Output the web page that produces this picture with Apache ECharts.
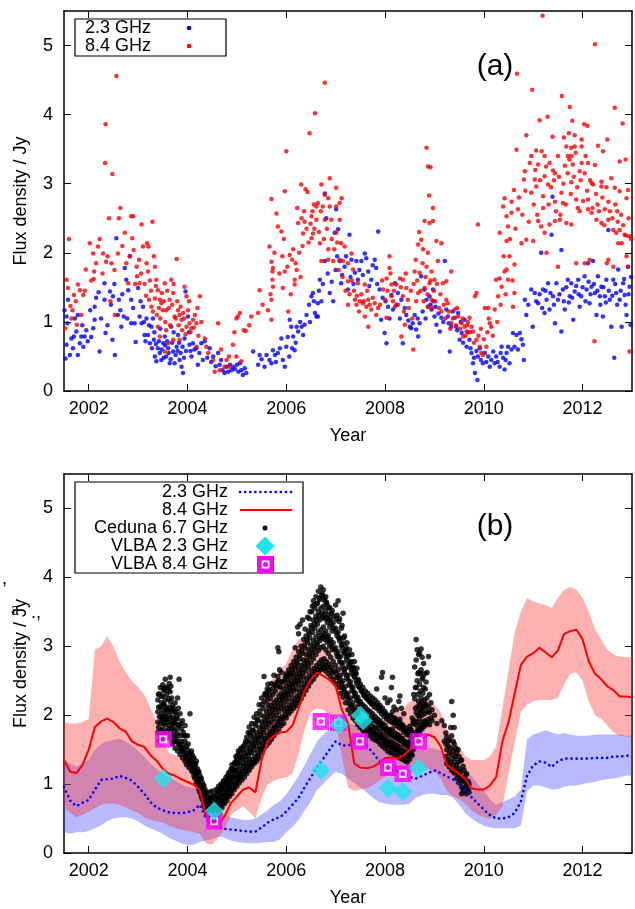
<!DOCTYPE html>
<html lang="en">
<head>
<meta charset="UTF-8">
<title>Flux density light curves</title>
<script src="https://cdn.jsdelivr.net/npm/echarts@6/dist/echarts.min.js"></script>
<style>
  html,body{margin:0;padding:0;background:#fff;}
  #chart{width:635px;height:909px;}
</style>
</head>
<body>
<div id="chart"></div>
<script>
var FONT = "'Liberation Sans', Arial, Helvetica, sans-serif";

// tick positions
var yearTicks = [2002, 2004, 2006, 2008, 2010, 2012];
var fluxTicks = [0, 1, 2, 3, 4, 5];

// ---------- panel (a): single-dish monitoring ----------
var flux23 = [
  [2001.51,1.17],[2001.53,0.47],[2001.55,1.08],[2001.55,0.67],[2001.58,1.32],[2001.62,0.52],[2001.65,0.76],[2001.70,0.79],
  [2001.75,0.86],[2001.78,1.10],[2001.78,0.52],[2001.82,0.69],[2001.85,0.79],[2001.89,0.64],[2001.92,0.79],[2001.95,0.88],
  [2001.57,0.98],[2001.68,0.62],[2001.72,1.05],[2001.87,0.95],[2001.98,0.72],
  [2002.03,1.17],[2002.09,0.91],[2002.12,1.22],[2002.12,1.03],[2002.20,1.43],[2002.22,0.57],[2002.32,1.56],[2002.32,1.32],
  [2002.34,0.84],[2002.43,1.44],[2002.48,0.74],[2002.49,1.37],[2002.53,0.52],[2002.56,2.21],[2002.59,1.10],[2002.61,1.32],
  [2002.64,1.17],[2002.66,0.93],[2002.71,1.08],[2002.73,1.78],[2002.76,1.61],[2002.80,1.46],[2002.83,1.95],[2002.86,1.32],
  [2002.86,0.98],[2002.93,0.98],[2002.95,0.71],[2002.05,0.78],[2002.15,1.35],[2002.25,1.05],[2002.38,0.95],[2002.45,1.25],
  [2002.52,1.55],[2002.68,1.40],[2002.78,1.05],[2002.90,1.20],
  [2003.00,1.49],[2003.03,1.08],[2003.07,0.98],[2003.10,1.22],[2003.13,0.81],
  [2003.17,1.05],[2003.20,0.81],[2003.24,0.69],[2003.27,0.93],[2003.30,1.05],[2003.32,0.74],[2003.34,0.50],[2003.37,0.43],
  [2003.40,0.62],[2003.44,0.55],[2003.47,0.45],[2003.51,0.69],[2003.54,0.79],[2003.57,0.50],[2003.61,0.62],[2003.64,0.40],
  [2003.67,0.93],[2003.71,0.57],[2003.74,0.40],[2003.78,0.64],[2003.81,0.81],[2003.84,0.45],[2003.88,0.35],[2003.91,0.26],
  [2003.94,0.76],[2003.96,1.44],[2003.05,1.30],[2003.12,1.00],[2003.15,0.72],[2003.22,0.95],[2003.28,0.62],[2003.33,0.85],
  [2003.36,0.68],[2003.42,0.72],[2003.45,0.90],[2003.48,0.60],[2003.52,0.48],[2003.55,0.66],[2003.59,0.72],[2003.62,0.55],
  [2003.66,0.46],[2003.69,0.70],[2003.72,0.85],[2003.76,0.52],[2003.80,0.58],[2003.83,0.70],[2003.86,0.55],[2003.90,0.64],
  [2003.93,0.48],[2003.97,0.58],
  [2004.01,1.08],[2004.04,0.67],[2004.08,0.50],[2004.11,0.69],[2004.18,0.62],[2004.21,0.38],
  [2004.28,0.69],[2004.35,0.72],[2004.45,0.62],[2004.52,0.50],[2004.62,0.55],[2004.65,0.38],[2004.71,0.30],[2004.75,0.26],
  [2004.79,0.35],[2004.86,0.38],[2004.92,0.35],[2004.03,0.85],[2004.06,0.58],[2004.14,0.60],[2004.24,0.55],[2004.31,0.45],
  [2004.40,0.48],[2004.48,0.42],[2004.57,0.36],[2004.68,0.45],[2004.82,0.28],[2004.89,0.30],[2004.96,0.32],
  [2005.00,0.38],[2005.06,0.40],[2005.09,0.30],[2005.12,0.23],[2005.16,0.33],
  [2005.33,0.57],[2005.43,0.38],[2005.46,0.52],[2005.60,0.52],[2005.66,0.45],[2005.70,0.40],[2005.73,0.59],[2005.77,0.52],
  [2005.83,0.55],[2005.90,0.76],[2005.93,0.45],[2005.97,0.35],[2005.03,0.28],[2005.19,0.26],[2005.50,0.46],[2005.56,0.35],
  [2005.79,0.42],[2005.87,0.62],
  [2006.00,0.64],[2006.06,0.50],[2006.07,1.03],[2006.10,0.93],
  [2006.14,0.79],[2006.17,0.59],[2006.21,0.93],[2006.24,0.86],[2006.31,0.93],[2006.34,0.81],[2006.37,0.96],[2006.46,1.25],
  [2006.51,1.37],[2006.54,1.42],[2006.58,1.13],[2006.61,1.08],[2006.64,1.27],[2006.64,1.08],[2006.68,1.61],[2006.71,1.30],
  [2006.03,0.78],[2006.12,0.62],[2006.19,0.70],[2006.28,1.00],[2006.41,1.10],[2006.48,1.00],[2006.56,1.30],
  [2006.78,1.88],[2006.78,2.86],[2006.81,2.50],[2006.88,1.42],[2006.95,1.30],[2006.98,2.29],[2007.01,2.63],[2007.05,2.34],
  [2007.08,1.88],[2007.11,1.56],[2007.18,1.80],[2007.25,1.47],[2007.28,2.26],[2007.32,1.90],[2007.39,1.71],[2007.42,1.88],
  [2007.45,1.61],[2007.52,1.88],[2007.59,1.99],[2007.62,1.92],[2007.66,1.73],[2007.72,1.61],[2007.79,1.90],[2007.82,1.78],
  [2007.86,2.31],[2007.89,1.47],[2007.92,1.03],[2007.99,0.84],[2008.03,0.69],[2008.06,1.22],[2008.13,1.39],[2008.20,1.56],
  [2006.66,1.45],[2006.74,1.55],[2006.84,1.70],[2006.92,1.58],[2007.00,1.75],[2007.03,1.95],[2007.13,1.68],[2007.21,1.95],
  [2007.30,1.65],[2007.36,1.55],[2007.48,1.75],[2007.55,1.68],[2007.68,1.52],[2007.75,1.82],[2007.84,1.55],[2007.95,1.35],
  [2008.26,1.42],[2008.33,1.32],[2008.36,0.69],[2008.43,1.10],[2008.50,0.93],[2008.53,0.91],[2008.60,1.10],[2008.63,0.89],
  [2008.67,0.79],[2008.70,0.98],[2008.73,1.66],[2008.80,1.47],[2008.84,1.32],[2008.87,1.22],[2008.90,1.37],[2008.94,1.18],
  [2008.97,1.47],[2008.01,1.30],[2008.09,1.05],[2008.16,1.18],[2008.23,1.25],[2008.30,1.05],[2008.40,1.20],[2008.47,1.02],
  [2008.56,0.98],[2008.66,1.05],[2008.76,1.15],[2008.82,1.05],[2008.92,1.25],[2008.98,1.30],
  [2009.00,1.08],[2009.04,0.96],[2009.11,0.86],[2009.14,1.06],[2009.21,1.88],[2009.24,1.18],[2009.27,1.08],
  [2009.31,0.57],[2009.34,0.93],[2009.41,1.06],[2009.44,0.93],[2009.48,1.13],[2009.51,0.74],[2009.55,0.84],[2009.61,1.03],
  [2009.65,0.64],[2009.71,0.74],[2009.75,0.55],[2009.78,0.40],[2009.82,0.26],[2009.87,0.16],[2009.88,0.50],[2009.92,0.62],
  [2009.02,1.22],[2009.08,1.12],[2009.18,1.00],[2009.29,0.98],[2009.37,1.15],[2009.46,0.88],[2009.53,1.00],[2009.58,0.70],
  [2009.68,0.85],[2009.73,0.62],[2009.80,0.48],[2009.85,0.58],[2009.94,0.45],
  [2009.98,0.40],[2010.02,0.55],[2010.09,0.50],[2010.12,0.35],[2010.19,0.57],[2010.22,0.40],[2010.25,0.50],[2010.32,0.35],
  [2010.36,0.64],[2010.39,0.48],[2010.42,0.31],[2010.46,0.55],[2010.49,0.64],[2010.56,0.60],[2010.62,0.64],[2010.59,0.84],
  [2010.66,0.81],[2010.73,0.84],[2010.79,0.67],[2010.81,0.45],[2010.83,1.32],[2010.86,1.10],[2010.96,1.47],[2010.99,0.93],
  [2010.05,0.42],[2010.15,0.45],[2010.28,0.42],[2010.34,0.55],[2010.44,0.45],[2010.52,0.40],[2010.69,0.60],[2010.76,0.75],
  [2011.03,1.42],[2011.10,1.27],[2011.16,2.00],[2011.20,1.47],[2011.23,1.13],[2011.27,1.32],[2011.30,1.56],[2011.33,1.18],
  [2011.37,2.26],[2011.39,2.81],[2011.40,1.37],[2011.44,0.98],[2011.47,1.56],[2011.50,1.32],[2011.57,2.04],[2011.57,0.86],
  [2011.60,1.47],[2011.64,1.18],[2011.70,1.61],[2011.74,1.37],[2011.77,1.56],[2011.81,1.03],[2011.84,1.44],[2011.91,1.61],
  [2011.94,1.22],[2011.97,1.37],[2012.04,1.66],[2012.08,1.47],[2012.11,1.85],[2012.14,1.27],[2012.18,1.51],[2012.21,1.88],
  [2012.25,1.42],[2012.28,1.10],[2012.31,1.66],[2012.35,1.37],[2012.38,1.51],[2012.41,1.08],[2012.45,1.37],[2012.48,1.61],
  [2012.52,2.33],[2012.55,1.32],[2012.58,0.93],[2012.62,1.61],[2012.64,0.48],[2012.68,1.42],[2012.72,1.76],[2012.75,1.32],
  [2012.79,0.93],[2012.82,1.56],[2012.85,1.39],[2012.89,1.10],[2012.92,1.80],[2012.95,1.51],[2012.97,0.96],
  [2010.90,1.25],[2011.06,1.30],[2011.13,1.40],[2011.18,1.20],[2011.25,1.45],[2011.35,1.42],[2011.42,1.25],[2011.53,1.40],
  [2011.62,1.30],[2011.67,1.50],[2011.72,1.28],[2011.79,1.35],[2011.87,1.52],[2011.92,1.40],[2012.00,1.50],[2012.06,1.30],
  [2012.12,1.58],[2012.16,1.40],[2012.23,1.55],[2012.30,1.45],[2012.36,1.25],[2012.42,1.50],[2012.47,1.28],[2012.53,1.45],
  [2012.60,1.38],[2012.66,1.55],[2012.70,1.25],[2012.77,1.45],[2012.84,1.62],[2012.87,1.25],[2012.93,1.40],[2012.98,1.65]
];

var flux84 = [
  [2001.52,0.91],[2001.55,1.61],[2001.58,1.49],[2001.60,2.20],[2001.63,1.23],[2001.67,1.17],[2001.70,1.39],[2001.76,0.96],
  [2001.78,1.54],[2001.82,1.46],[2001.85,1.10],[2001.89,1.39],[2001.94,1.76],[2001.65,1.05],[2001.74,1.30],[2001.92,1.45],
  [2002.02,2.14],[2002.09,1.99],[2002.10,1.62],
  [2002.11,1.73],[2002.19,2.09],[2002.29,1.99],[2002.33,3.30],[2002.34,3.86],[2002.35,1.87],[2002.41,2.50],[2002.46,1.85],
  [2002.48,3.14],[2002.53,1.10],[2002.56,4.56],[2002.59,1.99],[2002.61,2.50],[2002.64,2.65],[2002.73,2.29],[2002.76,1.85],
  [2002.80,1.56],[2002.86,2.53],[2002.88,2.21],[2002.90,2.53],[2002.91,2.04],[2002.97,1.80],[2002.98,1.66],
  [2002.05,1.60],[2002.15,1.85],[2002.22,2.20],[2002.28,1.70],[2002.38,1.95],[2002.44,1.30],[2002.52,1.75],[2002.68,2.10],
  [2002.84,1.95],[2002.94,1.55],
  [2003.03,1.56],[2003.07,2.41],[2003.10,2.09],[2003.17,1.85],[2003.18,2.14],[2003.20,1.73],[2003.21,2.09],[2003.22,1.32],
  [2003.27,1.22],[2003.29,2.45],[2003.32,1.95],[2003.34,1.80],[2003.34,1.34],[2003.37,1.61],[2003.40,1.46],[2003.40,0.93],
  [2003.44,1.32],[2003.44,0.79],[2003.47,1.27],[2003.50,1.17],[2003.54,1.56],[2003.54,0.57],[2003.57,1.17],[2003.57,0.88],
  [2003.61,0.69],[2003.64,1.32],[2003.67,1.61],[2003.71,1.42],[2003.71,0.74],[2003.74,1.08],[2003.78,1.91],[2003.81,1.17],
  [2003.84,1.10],[2003.84,0.74],[2003.88,1.03],[2003.91,1.13],[2003.94,1.51],[2003.98,1.37],[2003.98,0.93],
  [2003.02,1.90],[2003.06,1.70],[2003.13,1.55],[2003.16,1.38],[2003.24,1.60],[2003.26,1.45],[2003.30,1.15],[2003.36,1.52],
  [2003.38,1.10],[2003.42,1.20],[2003.45,1.05],[2003.48,1.42],[2003.52,1.30],[2003.55,1.00],[2003.59,1.45],[2003.62,1.20],
  [2003.65,0.95],[2003.69,1.25],[2003.72,1.55],[2003.76,1.05],[2003.79,1.30],[2003.82,0.95],[2003.86,1.22],[2003.89,0.88],
  [2003.93,1.05],[2003.96,0.82],
  [2004.01,1.17],[2004.04,0.98],[2004.08,0.91],[2004.11,1.03],[2004.15,1.10],[2004.18,0.98],[2004.18,0.64],[2004.25,1.37],
  [2004.35,0.76],[2004.38,0.64],[2004.52,0.45],[2004.55,0.28],[2004.62,0.98],[2004.65,0.30],[2004.75,0.35],[2004.79,0.45],
  [2004.86,0.35],[2004.92,0.67],[2004.99,1.05],[2004.99,0.50],[2004.03,1.30],[2004.06,0.85],[2004.13,0.92],[2004.20,1.20],
  [2004.22,0.80],[2004.28,1.00],[2004.42,0.55],[2004.68,0.60],[2004.84,0.50],[2004.95,0.85],
  [2005.02,1.08],[2005.06,1.13],[2005.09,0.43],[2005.14,0.88],[2005.18,0.87],[2005.29,1.08],[2005.25,0.95],
  [2005.43,1.13],[2005.46,1.46],[2005.63,1.17],[2005.66,2.09],[2005.70,2.78],[2005.70,1.87],[2005.70,1.32],[2005.70,1.03],
  [2005.72,1.73],[2005.72,1.61],[2005.73,1.51],[2005.73,1.78],[2005.80,2.57],[2005.83,2.38],[2005.90,2.31],[2005.92,1.95],
  [2005.93,1.49],[2005.97,2.89],[2005.97,1.73],[2005.52,1.25],[2005.68,1.40],[2005.76,2.00],[2005.86,1.70],[2005.95,2.20],
  [2006.00,3.47],[2006.04,1.15],[2006.07,1.97],[2006.12,1.90],[2006.17,1.61],
  [2006.17,1.54],[2006.21,1.75],[2006.22,2.65],[2006.24,2.43],[2006.30,2.99],[2006.31,2.50],[2006.34,2.28],[2006.37,2.45],
  [2006.39,2.92],[2006.43,2.88],[2006.47,3.73],[2006.51,2.53],[2006.51,2.21],[2006.54,2.28],[2006.56,2.70],[2006.58,4.02],
  [2006.02,1.80],[2006.09,1.40],[2006.14,2.05],[2006.19,1.85],[2006.26,2.00],[2006.29,1.65],[2006.33,2.10],[2006.36,2.60],
  [2006.41,2.35],[2006.45,2.15],[2006.49,2.42],[2006.53,2.60],[2006.57,2.35],
  [2006.61,2.67],[2006.64,2.72],[2006.71,2.99],[2006.74,2.67],[2006.78,4.46],[2006.78,2.84],[2006.88,3.08],[2006.85,2.79],
  [2006.88,2.67],[2007.01,2.94],[2007.01,2.67],[2007.08,2.72],[2007.12,2.79],[2006.61,2.48],[2006.78,2.48],[2006.91,2.48],
  [2007.08,2.48],[2007.01,2.29],[2006.68,2.14],[2007.11,2.14],[2007.18,2.09],[2006.85,2.05],[2006.71,1.88],[2006.85,1.90],
  [2006.95,1.88],[2007.08,1.90],[2007.15,1.88],[2007.25,1.85],[2007.32,1.99],[2007.35,1.76],[2007.25,1.59],[2007.45,1.56],
  [2007.59,1.54],[2007.39,1.32],[2007.49,1.30],[2007.66,1.32],[2007.25,1.25],[2007.79,1.27],[2007.62,1.22],[2007.59,1.08],
  [2007.66,0.93],[2007.86,1.20],[2007.42,1.25],[2007.55,1.27],[2007.72,1.18],
  [2006.66,2.30],[2006.70,2.60],[2006.76,2.20],[2006.82,2.35],[2006.92,2.20],[2006.97,2.05],[2007.03,2.15],[2007.06,1.75],
  [2007.14,1.65],[2007.20,1.45],[2007.28,1.40],[2007.33,1.60],[2007.37,1.45],[2007.43,1.38],[2007.47,1.15],[2007.52,1.40],
  [2007.57,1.30],[2007.64,1.45],[2007.69,1.25],[2007.75,1.35],[2007.82,1.10],[2007.90,1.25],[2007.94,1.60],
  [2008.09,1.95],[2008.09,1.78],[2008.03,1.63],
  [2008.13,1.54],[2008.13,1.37],[2008.23,1.54],[2008.30,1.63],[2008.36,1.61],[2008.43,1.49],[2008.36,1.37],[2008.46,1.32],
  [2008.00,1.32],[2008.20,1.22],[2007.96,1.47],[2008.33,0.79],[2008.57,0.60],[2008.40,0.96],[2008.03,1.06],[2008.80,2.46],
  [2008.90,2.43],[2008.97,2.46],[2008.73,2.19],[2008.67,2.12],[2008.77,2.05],[2008.87,2.00],[2009.04,2.17],[2009.14,2.14],
  [2008.60,1.73],[2008.70,1.71],[2008.84,1.80],[2008.94,1.73],[2009.07,1.88],[2009.00,1.61],[2008.90,1.56],[2008.80,1.49],
  [2008.67,1.42],[2009.17,1.56],[2009.24,1.59],[2008.63,1.30],[2008.87,1.22],[2009.14,1.15],[2009.24,1.32],[2008.94,1.32],
  [2009.34,1.73],[2008.84,3.52],[2008.87,3.25],[2008.92,3.24],[2008.89,2.83],[2008.97,2.65],
  [2008.05,1.45],[2008.11,1.70],[2008.16,1.30],[2008.18,1.45],[2008.26,1.25],[2008.32,1.50],[2008.38,1.15],[2008.42,1.70],
  [2008.48,1.20],[2008.52,1.45],[2008.55,1.05],[2008.58,1.55],[2008.62,1.90],[2008.65,1.60],[2008.69,2.30],[2008.72,1.45],
  [2008.76,1.85],[2008.78,1.30],[2008.82,1.65],[2008.86,1.40],[2008.92,1.60],[2008.96,1.20],[2008.99,1.45],
  [2009.27,1.27],[2009.41,1.18],
  [2009.48,1.08],[2009.34,0.98],[2009.55,0.98],[2009.61,0.93],[2009.68,1.00],[2009.75,0.93],[2009.78,0.86],[2009.82,1.37],
  [2009.85,1.42],[2009.88,2.41],[2009.65,0.86],[2009.58,0.79],[2009.85,0.74],[2009.92,0.64],[2009.95,0.55],[2009.71,1.06],
  [2009.02,1.30],[2009.05,1.55],[2009.09,1.20],[2009.12,1.40],[2009.19,1.25],[2009.22,1.05],[2009.29,1.15],[2009.32,0.90],
  [2009.37,1.05],[2009.44,0.95],[2009.46,1.20],[2009.52,0.90],[2009.57,1.05],[2009.63,0.80],[2009.66,0.95],[2009.72,0.85],
  [2009.80,0.70],[2009.89,0.80],[2009.94,0.90],
  [2010.02,1.20],[2010.09,1.20],[2010.12,0.98],[2010.15,0.93],[2010.22,1.18],[2010.25,1.61],[2010.32,1.63],[2010.36,1.51],
  [2010.29,1.37],[2010.42,1.73],[2010.46,1.76],[2010.49,1.61],[2010.59,1.22],[2010.62,1.42],[2010.32,2.29],[2010.46,2.17],
  [2010.49,2.38],[2010.56,2.58],[2010.46,2.53],[2010.39,2.67],[2010.52,1.95],[2010.62,1.83],[2010.05,0.64],[2009.98,0.52],
  [2010.00,0.75],[2010.07,0.85],[2010.10,1.05],[2010.18,0.80],[2010.27,1.00],[2010.34,1.25],[2010.40,1.95],[2010.44,1.40],
  [2010.53,2.20],[2010.58,1.60],[2010.64,2.35],[2010.71,2.80],[2010.78,2.55],[2010.84,2.90],[2010.91,2.45],
  [2010.69,2.63],[2010.76,2.14],[2010.86,2.19],[2011.00,2.17],[2011.10,2.46],[2011.23,2.29],[2011.16,2.38],[2011.27,2.00],
  [2011.33,2.41],[2011.44,2.46],[2011.54,2.48],[2011.67,2.43],[2011.77,2.41],[2011.87,1.85],[2011.50,1.80],[2011.94,2.60],
  [2012.11,2.63],[2012.18,2.58],[2012.28,2.48],[2012.38,2.43],[2012.45,2.63],[2012.52,2.48],[2012.62,2.33],[2012.68,2.29],
  [2012.75,2.33],[2012.85,2.26],[2012.95,2.24],[2012.72,2.14],[2012.79,2.14],[2012.89,1.95],[2012.52,1.90],[2012.49,1.85],
  [2012.62,1.80],[2012.92,1.80],[2012.95,0.57],[2012.24,0.72],[2012.04,1.85],[2012.14,1.90],[2011.19,5.43],[2012.25,5.02],
  [2010.67,4.59],[2010.98,4.36],[2011.58,4.27],[2011.74,4.11],[2012.65,4.10],[2012.81,3.87],[2011.13,3.92],[2011.29,3.97],
  [2011.79,3.91],[2012.03,3.86],[2012.10,3.84],[2012.50,3.64],[2010.86,3.70],[2011.39,3.68],[2011.62,3.67],[2011.72,3.73],
  [2011.84,3.70],[2011.98,3.64],[2010.66,3.49],[2011.06,3.48],[2011.17,3.47],[2011.23,3.40],[2011.50,3.40],[2011.67,3.54],
  [2011.77,3.52],[2011.84,3.54],[2011.98,3.54],[2012.31,3.55],[2012.41,3.47],[2011.77,3.40],[2011.70,3.40],[2010.96,3.40],
  [2010.93,3.30],[2011.10,3.28],[2011.33,3.30],[2011.64,3.26],[2011.80,3.28],[2011.98,3.30],[2012.11,3.30],[2012.25,3.27],
  [2012.75,3.32],[2012.87,3.35],[2010.83,3.18],[2011.03,3.06],[2011.23,3.11],[2011.40,3.19],[2011.44,3.15],[2011.70,3.15],
  [2011.94,3.18],[2012.04,3.15],[2012.21,2.99],[2012.38,3.03],[2012.58,3.08],[2010.81,3.06],[2011.06,2.96],[2011.30,2.99],
  [2011.57,2.87],[2011.77,3.02],[2012.18,3.01],[2012.38,2.96],[2012.65,2.94],[2012.75,2.89],[2012.92,2.91],[2010.61,2.91],
  [2010.42,2.79],[2010.56,2.74],[2010.96,2.87],[2011.20,2.82],[2011.44,2.74],[2011.87,2.77],[2012.11,2.77],[2012.52,2.74],
  [2012.89,2.79],[2011.60,2.72],[2011.90,2.65],[2012.30,2.70],[2012.70,2.60],
  [2011.01,2.70],[2011.04,3.20],[2011.08,2.55],[2011.14,3.05],[2011.20,2.65],[2011.26,3.25],[2011.31,2.70],[2011.36,2.95],
  [2011.42,3.05],[2011.46,2.60],[2011.52,3.10],[2011.55,2.55],[2011.61,3.00],[2011.66,2.70],[2011.73,3.35],[2011.76,2.85],
  [2011.82,3.10],[2011.86,3.45],[2011.89,2.95],[2011.96,3.05],[2012.01,2.75],[2012.06,3.40],[2012.09,2.90],[2012.15,3.05],
  [2012.20,2.65],[2012.27,2.85],[2012.33,2.60],[2012.40,2.80],[2012.44,2.40],[2012.48,2.95],[2012.55,2.60],[2012.60,2.50],
  [2012.66,2.70],[2012.71,2.45],[2012.78,2.55],[2012.82,2.40],[2012.88,2.25],[2012.93,2.50],[2012.98,2.20]
];

// ---------- panel (b): averaged curves, Ceduna and VLBA ----------
var bandYears = [
  2001.5, 2001.625, 2001.75, 2001.875,
  2002, 2002.125, 2002.25, 2002.375, 2002.5, 2002.625, 2002.75, 2002.875,
  2003, 2003.125, 2003.25, 2003.375, 2003.5, 2003.625, 2003.75, 2003.875,
  2004, 2004.125, 2004.25, 2004.375, 2004.5, 2004.625, 2004.75, 2004.875,
  2005, 2005.125, 2005.25, 2005.375, 2005.5, 2005.625, 2005.75, 2005.875,
  2006, 2006.125, 2006.25, 2006.375, 2006.5, 2006.625, 2006.75, 2006.875,
  2007, 2007.125, 2007.25, 2007.375, 2007.5, 2007.625, 2007.75, 2007.875,
  2008, 2008.125, 2008.25, 2008.375, 2008.5, 2008.625, 2008.75, 2008.875,
  2009, 2009.125, 2009.25, 2009.375, 2009.5, 2009.625, 2009.75, 2009.875,
  2010, 2010.125, 2010.25, 2010.375, 2010.5, 2010.625, 2010.75, 2010.875,
  2011, 2011.125, 2011.25, 2011.375, 2011.5, 2011.625, 2011.75, 2011.875,
  2012, 2012.125, 2012.25, 2012.375, 2012.5, 2012.625, 2012.75, 2012.875,
  2013
];
var line84 = [
  1.35, 1.18, 1.16, 1.28,
  1.50, 1.83, 1.91, 1.95, 1.90, 1.81, 1.76, 1.62,
  1.57, 1.54, 1.42, 1.34, 1.22, 1.15, 1.12, 1.07,
  1.03, 0.99, 0.91, 0.53, 0.40, 0.42, 0.53, 0.72,
  0.82, 0.92, 0.95, 0.88, 1.35, 1.62, 1.70, 1.75,
  1.76, 1.85, 2.10, 2.36, 2.52, 2.62, 2.57, 2.51,
  2.42, 2.08, 1.88, 1.30, 1.24, 1.23, 1.25, 1.30,
  1.38, 1.39, 1.37, 1.42, 1.50, 1.59, 1.65, 1.72,
  1.68, 1.55, 1.28, 1.21, 1.15, 1.07, 0.94, 0.92,
  0.92, 0.98, 1.10, 1.62, 1.90, 2.32, 2.73, 2.85,
  2.90, 2.98, 2.91, 2.84, 2.94, 3.18, 3.22, 3.24,
  3.10, 2.78, 2.60, 2.52, 2.42, 2.36, 2.27, 2.27,
  2.26
];
var low84 = [
  0.65, 0.58, 0.52, 0.55,
  0.60, 0.65, 0.70, 0.72, 0.72, 0.70, 0.66, 0.62,
  0.58, 0.52, 0.48, 0.46, 0.44, 0.40, 0.36, 0.34,
  0.32, 0.30, 0.28, 0.14, 0.12, 0.22, 0.35, 0.55,
  0.62, 0.68, 0.60, 0.50, 0.80, 1.00, 1.05, 1.08,
  1.10, 1.15, 1.45, 1.80, 2.05, 2.10, 2.08, 2.00,
  1.90, 1.40, 0.95, 0.90, 0.92, 0.94, 0.98, 1.05,
  1.10, 1.15, 1.18, 1.18, 1.18, 1.18, 1.20, 1.22,
  1.18, 1.08, 0.90, 0.82, 0.78, 0.72, 0.62, 0.56,
  0.52, 0.50, 0.55, 0.68, 1.15, 1.60, 2.05, 2.15,
  2.20, 2.22, 2.22, 2.22, 2.25, 2.45, 2.60, 2.62,
  2.50, 2.20, 2.00, 1.95, 1.85, 1.75, 1.70, 1.69,
  1.68
];
var high84 = [
  1.90, 1.88, 1.88, 1.90,
  1.95, 2.95, 3.00, 3.15, 3.00, 2.78, 2.62, 2.50,
  2.40, 2.30, 2.10, 1.90, 1.65, 1.45, 1.42, 1.42,
  1.40, 1.30, 1.25, 1.00, 0.82, 0.82, 0.84, 0.88,
  0.95, 1.05, 1.15, 1.40, 2.00, 2.40, 2.55, 2.65,
  2.75, 2.95, 3.10, 3.10, 3.05, 3.05, 3.00, 2.95,
  2.78, 2.62, 2.10, 1.95, 1.90, 1.85, 1.83, 1.85,
  1.95, 2.00, 2.05, 2.10, 2.20, 2.22, 2.22, 2.20,
  2.15, 2.05, 1.80, 1.65, 1.55, 1.40, 1.35, 1.35,
  1.35, 1.40, 1.55, 2.10, 2.65, 3.20, 3.50, 3.70,
  3.65, 3.62, 3.60, 3.55, 3.70, 3.82, 3.86, 3.82,
  3.70, 3.50, 3.25, 3.10, 2.95, 2.88, 2.85, 2.84,
  2.84
];
var line23 = [
  0.96, 0.76, 0.68, 0.73,
  0.77, 0.92, 1.06, 1.07, 1.08, 1.12, 1.09, 1.05,
  0.96, 0.86, 0.74, 0.66, 0.62, 0.59, 0.58, 0.58,
  0.59, 0.62, 0.70, 0.50, 0.41, 0.38, 0.35, 0.34,
  0.33, 0.32, 0.31, 0.31, 0.37, 0.44, 0.49, 0.52,
  0.60, 0.70, 0.80, 0.96, 1.10, 1.25, 1.37, 1.50,
  1.62, 1.56, 1.56, 1.60, 1.63, 1.56, 1.46, 1.34,
  1.25, 1.21, 1.18, 1.14, 1.10, 1.08, 1.12, 1.16,
  1.20, 1.16, 1.11, 1.07, 0.99, 0.90, 0.81, 0.72,
  0.63, 0.55, 0.50, 0.50, 0.52, 0.58, 0.75, 1.12,
  1.27, 1.33, 1.31, 1.25, 1.33, 1.37, 1.37, 1.37,
  1.37, 1.37, 1.38, 1.38, 1.38, 1.40, 1.40, 1.41,
  1.42
];
var low23 = [
  0.30, 0.28, 0.30, 0.30,
  0.32, 0.36, 0.40, 0.46, 0.50, 0.52, 0.52, 0.50,
  0.46, 0.40, 0.36, 0.32, 0.28, 0.22, 0.18, 0.14,
  0.12, 0.12, 0.16, 0.18, 0.20, 0.24, 0.22, 0.18,
  0.16, 0.15, 0.14, 0.14, 0.15, 0.16, 0.16, 0.20,
  0.30, 0.38, 0.48, 0.62, 0.75, 0.92, 1.00, 1.10,
  1.18, 1.15, 1.08, 1.02, 0.95, 0.88, 0.80, 0.74,
  0.72, 0.70, 0.70, 0.70, 0.72, 0.80, 0.84, 0.86,
  0.86, 0.84, 0.84, 0.80, 0.70, 0.58, 0.50, 0.44,
  0.40, 0.37, 0.36, 0.36, 0.36, 0.36, 0.40, 0.90,
  0.98, 0.98, 0.95, 0.92, 0.93, 0.96, 0.98, 0.98,
  1.00, 1.02, 1.03, 1.06, 1.07, 1.08, 1.10, 1.12,
  1.13
];
var high23 = [
  1.35, 1.30, 1.25, 1.30,
  1.35, 1.50, 1.58, 1.62, 1.64, 1.66, 1.62, 1.56,
  1.48, 1.40, 1.30, 1.22, 1.15, 1.10, 1.05, 1.00,
  0.96, 0.94, 0.92, 0.80, 0.70, 0.62, 0.56, 0.52,
  0.50, 0.48, 0.48, 0.50, 0.56, 0.62, 0.70, 0.75,
  0.85, 0.98, 1.12, 1.28, 1.45, 1.62, 1.72, 1.80,
  1.90, 1.92, 1.88, 1.86, 1.84, 1.80, 1.72, 1.66,
  1.62, 1.58, 1.54, 1.52, 1.50, 1.50, 1.50, 1.52,
  1.52, 1.48, 1.42, 1.36, 1.28, 1.20, 1.12, 1.00,
  0.90, 0.78, 0.70, 0.74, 0.78, 0.82, 0.92, 1.65,
  1.72, 1.75, 1.78, 1.75, 1.72, 1.74, 1.72, 1.70,
  1.70, 1.70, 1.72, 1.72, 1.72, 1.72, 1.72, 1.70,
  1.70
];

// Ceduna 6.7 GHz: each row is [epoch, flux, flux, ...]
var cedunaRows = [
  [2003.40,1.75,2.05,2.22,1.90],[2003.43,1.62,2.31,1.98],[2003.45,2.12,1.70,1.88,2.40],[2003.48,1.95,2.18,1.66,2.02],
  [2003.50,1.80,2.27,2.08,1.93,2.44],[2003.53,2.15,1.72,2.35,1.98],[2003.55,1.86,2.52,2.01,2.22],[2003.58,2.10,1.77,2.30,1.94],
  [2003.60,1.68,2.06,2.40,1.90],[2003.63,2.46,1.85,2.12,1.99],[2003.65,1.73,2.20,1.96,2.34,2.55],[2003.68,1.90,1.64,2.08,2.25],
  [2003.70,1.58,2.14,1.82,1.97],[2003.73,1.77,1.62,2.05,1.90],[2003.75,1.52,1.88,1.70,2.18],[2003.78,1.65,2.00,1.80],
  [2003.80,1.48,1.73,1.95,2.25],[2003.83,1.60,1.85,2.52],[2003.85,1.43,1.70,2.02,1.55],[2003.88,1.62,1.48,1.80],
  [2003.90,1.38,1.57,1.92],[2003.93,1.52,1.45,1.70],[2003.95,1.33,1.62,1.85],[2003.98,1.42,1.28,1.55],
  [2004.00,1.36,1.50,1.70],[2004.03,1.24,1.45,1.33],[2004.05,1.40,2.02,1.28],[2004.08,1.20,1.35,1.48],
  [2004.10,1.30,1.18,1.42],[2004.13,1.12,1.25,1.38],[2004.15,1.08,1.30,1.20],[2004.18,1.02,1.15,1.33],
  [2004.20,0.98,1.22,1.08],[2004.23,0.93,1.05,1.18],[2004.25,0.88,1.12,0.99],[2004.28,0.82,0.95,1.08],
  [2004.30,0.78,1.02,0.90],[2004.33,0.72,0.86,0.98],[2004.35,0.66,0.92,0.80],[2004.38,0.62,0.75,0.88],
  [2004.40,0.57,0.82,0.70],[2004.43,0.52,0.66,0.78],[2004.45,0.48,0.72,0.60,0.88],[2004.48,0.55,0.45,0.80],
  [2004.50,0.50,0.64,0.76,0.90],[2004.53,0.58,0.47,0.70],[2004.55,0.52,0.84,0.66],[2004.58,0.60,0.73,0.92],
  [2004.60,0.55,0.68,0.86],[2004.63,0.64,0.78,0.97],[2004.65,0.60,0.90,0.72],[2004.68,0.70,0.82,1.00],
  [2004.70,0.66,0.95,0.78],[2004.73,0.74,0.88,1.05],[2004.75,0.72,1.00,0.84],[2004.78,0.80,0.92,1.10],
  [2004.80,0.76,1.04,0.88],[2004.83,0.84,0.98,1.16],[2004.85,0.82,1.10,0.94],[2004.88,0.90,1.03,1.22],
  [2004.90,0.86,1.15,1.00,1.28],[2004.93,0.95,1.08,1.20],[2004.95,0.92,1.30,1.12],[2004.98,1.00,1.17,1.40],
  [2005.00,0.97,1.25,1.10,1.36],[2005.03,1.05,1.20,1.48],[2005.05,1.02,1.33,1.15],[2005.08,1.10,1.27,1.52],
  [2005.10,1.06,1.40,1.22],[2005.13,1.14,1.30,1.55],[2005.15,1.10,1.45,1.26],[2005.18,1.18,1.35,1.62],
  [2005.20,1.15,1.52,1.30,1.68],[2005.23,1.22,1.42,1.75],[2005.25,1.20,1.58,1.36,1.83],[2005.28,1.28,1.48,1.70],
  [2005.30,1.25,1.64,1.45,1.88],[2005.33,1.32,1.55,1.78],[2005.35,1.30,1.70,1.50,1.97],[2005.38,1.36,1.60,1.85],
  [2005.40,1.33,1.75,1.55,2.02],[2005.43,1.42,1.66,1.92],[2005.45,1.38,1.82,1.60,2.15],[2005.48,1.50,1.72,2.00],
  [2005.50,1.45,1.90,1.68,2.25],[2005.53,1.55,1.80,2.10],[2005.55,1.52,1.98,1.75,2.20,2.56],[2005.58,1.62,1.88,2.32],
  [2005.60,1.56,2.05,1.82,2.28],[2005.63,1.66,1.92,2.15,2.45],[2005.65,1.60,2.10,1.86,2.36],[2005.68,1.72,1.98,2.24],
  [2005.70,1.65,2.14,1.90,2.46],[2005.73,1.76,2.02,2.30],[2005.75,1.70,2.18,1.95,2.58],[2005.78,1.82,2.08,2.35],
  [2005.80,1.75,2.22,2.00,2.42],[2005.83,1.86,2.12,2.56,2.98],[2005.85,1.80,2.28,2.05,2.50,2.92],[2005.88,1.92,2.17,2.40],
  [2005.90,1.85,2.32,2.10,2.62],[2005.93,1.95,2.22,2.48],[2005.95,1.88,2.38,2.14],[2005.98,2.00,2.27,2.55],
  [2006.00,1.96,2.42,2.20,2.60],[2006.03,2.05,2.32,2.52],[2006.05,2.02,2.46,2.25,2.66],[2006.08,2.10,2.36,2.58],
  [2006.10,2.06,2.50,2.30,2.72],[2006.13,2.14,2.40,2.62],[2006.15,2.10,2.55,2.35,2.78],[2006.18,2.18,2.46,2.68,2.98],
  [2006.20,2.14,2.60,2.38,2.84],[2006.23,2.22,2.50,2.74,3.28],[2006.25,2.18,2.66,2.44,2.92,3.18],[2006.28,2.28,2.56,2.82,3.32],
  [2006.30,2.24,2.72,2.50,3.00],[2006.33,2.34,2.62,2.90,3.38],[2006.35,2.30,2.80,2.56,3.10],[2006.38,2.40,2.70,2.98,3.25],
  [2006.40,2.36,2.88,2.64,3.15],[2006.43,2.46,2.76,3.06,3.42],[2006.45,2.42,2.95,2.70,3.22],[2006.48,2.52,2.84,3.12,3.50],
  [2006.50,2.48,3.02,2.76,3.30],[2006.53,2.56,2.90,3.20,3.58],[2006.55,2.52,3.08,2.82,3.38,3.66],[2006.58,2.62,2.96,3.26,3.55],
  [2006.60,2.58,3.14,2.88,3.44,3.72],[2006.63,2.66,3.02,3.32,3.62],[2006.65,2.62,3.20,2.94,3.50,3.80],[2006.68,2.70,3.08,3.38,3.68],
  [2006.70,2.66,3.24,2.98,3.55,3.86],[2006.73,2.74,3.12,3.42,3.76],[2006.75,2.68,3.28,3.00,3.58,3.82],[2006.78,2.72,3.10,3.40,3.66],
  [2006.80,2.64,3.22,2.95,3.52,3.72],[2006.83,2.70,3.06,3.34,3.60],[2006.85,2.60,3.16,2.90,3.46],[2006.88,2.66,3.00,3.28,3.56],
  [2006.90,2.56,3.10,2.84,3.40],[2006.93,2.62,2.95,3.22,3.52],[2006.95,2.52,3.05,2.78,3.34],[2007.00,2.46,2.98,2.72,3.26,3.60],
  [2007.03,2.55,2.85,3.15,3.45],[2007.05,2.40,2.92,2.66,3.20,3.66],[2007.08,2.48,2.78,3.08,3.40],[2007.10,2.32,2.85,2.58,3.12],
  [2007.13,2.40,2.70,2.98,3.30],[2007.15,2.26,2.76,2.50,3.04,3.48],[2007.18,2.34,2.62,2.90,3.15],[2007.20,2.18,2.68,2.42,2.95],
  [2007.23,2.26,2.54,2.80,3.05],[2007.25,2.08,2.58,2.32,2.86],[2007.28,2.16,2.44,2.70,2.95],[2007.30,2.02,2.48,2.25,2.76],
  [2007.33,2.10,2.36,2.62,2.88],[2007.35,1.96,2.40,2.18,2.70],[2007.38,2.04,2.28,2.55,2.78],[2007.40,1.92,2.32,2.12,2.62],
  [2007.43,1.98,2.22,2.46,2.68],[2007.45,1.86,2.26,2.06,2.52],[2007.48,1.94,2.16,2.40],[2007.50,1.82,2.20,2.00,2.45],
  [2007.53,1.90,2.10,2.34],[2007.55,1.78,2.15,1.96,2.40],[2007.58,1.85,2.06,2.28],[2007.60,1.76,2.12,1.92,2.35],
  [2007.63,1.82,2.02,2.24],[2007.65,1.72,2.08,1.90,2.32],[2007.68,1.80,1.98,2.20],[2007.70,1.70,2.05,1.88,2.28],
  [2007.73,1.78,1.96,2.16],[2007.75,1.66,2.02,1.84,2.25],[2007.78,1.75,1.92,2.12],[2007.80,1.64,1.98,1.82,2.22],
  [2007.83,1.72,1.90,2.10,2.38],[2007.85,1.62,1.95,1.80,2.18],[2007.88,1.70,1.86,2.06],[2007.90,1.58,1.92,1.76,2.14],
  [2007.93,1.68,1.84,2.02,2.55],[2007.95,1.55,1.88,1.72,2.10,2.62],[2007.98,1.64,1.80,1.98],[2008.00,1.52,1.85,1.68,2.05,2.25],
  [2008.03,1.60,1.76,1.95],[2008.05,1.48,1.80,1.64,2.00,2.18],[2008.08,1.56,1.72,1.92],[2008.10,1.46,1.78,1.62,1.98,2.22],
  [2008.13,1.54,1.70,1.90,2.40],[2008.15,1.45,1.80,1.60,2.05,2.55],[2008.18,1.52,1.68,1.88,2.12],[2008.20,1.42,1.74,1.58,1.96],
  [2008.23,1.50,1.66,1.85,2.08],[2008.25,1.40,1.72,1.56,1.92],[2008.28,1.48,1.64,1.82,2.20],[2008.30,1.38,1.70,1.54,1.94,2.28],
  [2008.33,1.46,1.62,1.80,2.10],[2008.35,1.36,1.66,1.50,1.86],[2008.38,1.44,1.58,1.76,2.02],[2008.40,1.34,1.62,1.48,1.82],
  [2008.43,1.42,1.56,1.72],[2008.45,1.32,1.60,1.46,1.78],[2008.48,1.40,1.54,1.70],[2008.50,1.36,1.62,1.48,1.84],
  [2008.53,1.44,1.58,1.78],[2008.55,1.42,1.72,1.56,1.96],[2008.58,1.52,1.68,1.88,2.30],[2008.60,1.60,1.92,1.75,2.24,2.70],
  [2008.63,1.68,2.04,2.40,2.80,3.10],[2008.65,1.72,2.12,1.90,2.50,2.95],[2008.68,1.78,2.20,2.00,2.62,2.88],[2008.70,1.75,2.15,1.95,2.45,2.90],
  [2008.73,1.82,2.25,2.05,2.66,2.96],[2008.75,1.80,2.18,2.00,2.52,2.84],[2008.78,1.86,2.10,2.40,2.75],[2008.80,1.84,2.22,2.02,2.60],
  [2008.83,1.90,2.14,2.48],[2008.85,1.88,2.25,2.05,2.62],[2008.88,1.94,2.12,2.85],[2008.90,1.86,2.04,2.30],
  [2008.93,1.96,2.18],[2008.95,1.92,2.08],[2009.00,2.00],[2009.05,1.88],[2009.15,1.92],[2009.20,1.62,1.85],
  [2009.23,1.40,1.58,1.74],[2009.25,1.30,1.50,1.68],[2009.28,1.36,1.55,1.62],[2009.30,1.25,1.45,1.64],
  [2009.33,1.32,1.52,1.82],[2009.35,1.20,1.42,1.70,2.20],[2009.38,1.28,1.48,2.00,1.62],[2009.40,1.16,1.36,1.58,1.82],
  [2009.43,1.22,1.40,1.52],[2009.45,1.08,1.28,1.46],[2009.48,1.14,1.32,1.50],[2009.50,1.02,1.22,1.40],
  [2009.53,1.06,1.18,1.34],[2009.55,0.86,1.10,1.35,0.96],[2009.58,0.92,1.04,1.26],[2009.60,0.90,1.06,1.20],
  [2009.63,0.95,1.12],[2009.65,0.86,1.00,1.15],[2009.68,0.92,1.04],[2009.70,0.88,1.00],
  // denser interleaved epochs
  [2003.415,1.82,2.12,2.30],[2003.465,1.78,1.97,2.28],[2003.515,1.88,2.16,2.38],[2003.565,1.93,2.08,2.40],
  [2003.615,1.80,2.24,2.36],[2003.665,1.80,2.05,2.42],[2003.715,1.70,1.88,2.10],[2003.765,1.62,1.95,2.05],
  [2003.815,1.58,1.86,2.10],[2003.865,1.52,1.88],[2003.915,1.48,1.75],[2003.965,1.40,1.70],
  [2004.015,1.32,1.58],[2004.065,1.30,1.45],[2004.115,1.24,1.38],[2004.165,1.15,1.28],
  [2004.215,1.04,1.18],[2004.265,0.92,1.06],[2004.315,0.84,0.96],[2004.365,0.74,0.86],
  [2004.415,0.62,0.76],[2004.465,0.54,0.66,0.80],[2004.515,0.54,0.70,0.82],[2004.565,0.58,0.78],
  [2004.615,0.63,0.80,0.90],[2004.665,0.68,0.86,0.94],[2004.715,0.76,0.92,1.00],[2004.765,0.82,0.96,1.05],
  [2004.815,0.88,1.00,1.12],[2004.865,0.92,1.06,1.18],[2004.915,0.96,1.10,1.22],[2004.965,1.02,1.20,1.32],
  [2005.015,1.08,1.30,1.42],[2005.065,1.12,1.38,1.46],[2005.115,1.18,1.36,1.50],[2005.165,1.22,1.40,1.58],
  [2005.215,1.26,1.46,1.62],[2005.265,1.32,1.52,1.74],[2005.315,1.36,1.58,1.78],[2005.365,1.40,1.64,1.88],
  [2005.415,1.46,1.68,1.94],[2005.465,1.52,1.76,2.06],[2005.515,1.60,1.84,2.16],[2005.565,1.66,1.92,2.30],
  [2005.615,1.70,1.98,2.22,2.38],[2005.665,1.76,2.04,2.30],[2005.715,1.80,2.08,2.38],[2005.765,1.84,2.12,2.44],
  [2005.815,1.90,2.18,2.48],[2005.865,1.95,2.22,2.42,2.66],[2005.915,1.98,2.26,2.48],[2005.965,2.06,2.30,2.50],
  [2006.015,2.10,2.34,2.56],[2006.065,2.14,2.40,2.60],[2006.115,2.20,2.44,2.66],[2006.165,2.24,2.48,2.72],
  [2006.215,2.28,2.54,2.78],[2006.265,2.34,2.60,2.86],[2006.315,2.40,2.66,2.94],[2006.365,2.46,2.74,3.02],
  [2006.415,2.52,2.80,3.10],[2006.465,2.58,2.88,3.18,3.40],[2006.515,2.64,2.95,3.26,3.50],[2006.565,2.68,3.00,3.32,3.60],
  [2006.615,2.72,3.06,3.38,3.62],[2006.665,2.76,3.12,3.44,3.70],[2006.715,2.80,3.16,3.48,3.74],[2006.765,2.82,3.18,3.46,3.70],
  [2006.815,2.78,3.14,3.42,3.64],[2006.865,2.74,3.08,3.38,3.56],[2006.915,2.70,3.02,3.32,3.48],[2006.965,2.64,2.96,3.26,3.44],
  [2007.015,2.60,2.90,3.20,3.40],[2007.065,2.54,2.84,3.12,3.36],[2007.115,2.46,2.76,3.02,3.26],[2007.165,2.38,2.66,2.92,3.12],
  [2007.215,2.30,2.58,2.84,2.98],[2007.265,2.22,2.50,2.74,2.88],[2007.315,2.14,2.42,2.66,2.78],[2007.365,2.08,2.34,2.58,2.68],
  [2007.415,2.04,2.26,2.50,2.60],[2007.465,1.98,2.20,2.42,2.50],[2007.515,1.94,2.14,2.36],[2007.565,1.88,2.08,2.30],
  [2007.615,1.84,2.04,2.26],[2007.665,1.80,2.00,2.22],[2007.715,1.76,1.96,2.18],[2007.765,1.74,1.94,2.16],
  [2007.815,1.72,1.92,2.14],[2007.865,1.68,1.90,2.12],[2007.915,1.66,1.86,2.08],[2007.965,1.62,1.82,2.04],
  [2008.015,1.58,1.80,2.02],[2008.065,1.56,1.76,1.98],[2008.115,1.54,1.74,2.00],[2008.165,1.52,1.72,1.96],
  [2008.215,1.50,1.70,1.92],[2008.265,1.48,1.68,1.90],[2008.315,1.46,1.66,1.88],[2008.365,1.44,1.62,1.84],
  [2008.415,1.42,1.58,1.78],[2008.465,1.40,1.56,1.74],[2008.515,1.44,1.60,1.80],[2008.565,1.50,1.66,1.90],
  [2008.615,1.66,1.86,2.10,2.40],[2008.665,1.80,2.00,2.30,2.60],[2008.715,1.86,2.08,2.35,2.60],[2008.765,1.90,2.12,2.32,2.55],
  [2008.815,1.92,2.16,2.38]
];

var vlba23 = [[2003.51,1.08],[2004.54,0.61],[2006.70,1.20],[2007.07,1.86],[2007.50,2.00],[2007.56,1.92],[2008.06,0.94],[2008.36,0.89],[2008.67,1.23]];
var vlba84 = [[2003.51,1.65],[2004.54,0.46],[2006.70,1.91],[2007.05,1.89],[2007.49,1.62],[2008.06,1.24],[2008.36,1.15],[2008.68,1.62]];

// ---------- helpers ----------
function pairs(xs, ys) { return xs.map(function (x, i) { return [x, ys[i]]; }); }

var cedunaPts = [];
cedunaRows.forEach(function (row) {
  for (var k = 1; k < row.length; k++) cedunaPts.push([row[0], row[k]]);
});

var squareSvg = "<svg xmlns='http://www.w3.org/2000/svg' width='34' height='34'>" +
  "<rect width='34' height='34' fill='#ff00ff'/>" +
  "<rect x='9' y='9' width='16' height='16' fill='#ffffff'/>" +
  "<circle cx='17' cy='17' r='5' fill='#ff00ff'/></svg>";
var squareIcon = 'data:image/svg+xml;charset=utf-8,' + encodeURIComponent(squareSvg);

var CYAN = '#1ee6ee';

function yearLabel(v) { return String(v); }

function xAxisPair(grid) {
  var common = {
    gridIndex: grid, type: 'value', min: 2001.5, max: 2013,
    axisLine: { onZero: false, lineStyle: { color: '#000', width: 1.5 } },
    axisTick: { inside: true, length: 7, customValues: yearTicks, lineStyle: { color: '#000', width: 1 } },
    splitLine: { show: false }
  };
  var bottom = Object.assign({}, common, {
    position: 'bottom',
    name: 'Year', nameLocation: 'middle', nameGap: 36,
    nameTextStyle: { fontSize: 18, color: '#000', fontFamily: FONT },
    axisLabel: { customValues: yearTicks, formatter: yearLabel, fontSize: 18, color: '#000', margin: 9, fontFamily: FONT }
  });
  var top = Object.assign({}, common, { position: 'top', axisLabel: { show: false } });
  return [bottom, top];
}
function yAxisPair(grid) {
  var common = {
    gridIndex: grid, type: 'value', min: 0, max: 5.5,
    axisLine: { onZero: false, lineStyle: { color: '#000', width: 1.5 } },
    axisTick: { inside: true, length: 7, customValues: fluxTicks, lineStyle: { color: '#000', width: 1 } },
    splitLine: { show: false }
  };
  var left = Object.assign({}, common, {
    position: 'left',
    name: 'Flux density / Jy', nameLocation: 'middle', nameGap: 34,
    nameTextStyle: { fontSize: 18, color: '#000', fontFamily: FONT },
    axisLabel: { customValues: fluxTicks, fontSize: 18, color: '#000', margin: 11, fontFamily: FONT }
  });
  var right = Object.assign({}, common, { position: 'right', axisLabel: { show: false } });
  return [left, right];
}

// shaded spread drawn as one polygon through the axis scales
function band(lo, hi, color) {
  return {
    type: 'custom', xAxisIndex: 2, yAxisIndex: 2, silent: true, z: 1, clip: true,
    data: bandYears.map(function (t, i) { return [t, lo[i], hi[i]]; }),
    encode: { x: 0, y: [1, 2] },
    renderItem: function (params, api) {
      if (params.dataIndex !== 0) return null;
      var upper = [], lower = [];
      for (var i = 0; i < bandYears.length; i++) {
        upper.push(api.coord([bandYears[i], hi[i]]));
        lower.unshift(api.coord([bandYears[i], lo[i]]));
      }
      return { type: 'polygon', shape: { points: upper.concat(lower) }, style: { fill: color } };
    }
  };
}

var chart = echarts.init(document.getElementById('chart'), null, { renderer: 'canvas' });

var option = {
  animation: false,
  backgroundColor: '#fff',
  textStyle: { fontFamily: FONT },
  grid: [
    { left: 64, top: 11, width: 568, height: 380 },
    { left: 64, top: 474, width: 568, height: 379 }
  ],
  xAxis: xAxisPair(0).concat(xAxisPair(1)),
  yAxis: yAxisPair(0).concat(yAxisPair(1)),
  series: [
    // (a)
    { name: '2.3 GHz', type: 'scatter', xAxisIndex: 0, yAxisIndex: 0, symbolSize: 4.5,
      itemStyle: { color: '#0000ff' }, data: flux23, z: 3 },
    { name: '8.4 GHz', type: 'scatter', xAxisIndex: 0, yAxisIndex: 0, symbolSize: 4.5,
      itemStyle: { color: '#ff0000' }, data: flux84, z: 3 },
    // (b)
    band(low23, high23, 'rgba(60,60,255,0.36)'),
    band(low84, high84, 'rgba(255,40,40,0.36)'),
    { name: 'Ceduna 6.7 GHz', type: 'scatter', xAxisIndex: 2, yAxisIndex: 2, symbolSize: 5.5,
      itemStyle: { color: '#000' }, data: cedunaPts, z: 3, large: false },
    { name: '2.3 GHz avg', type: 'line', xAxisIndex: 2, yAxisIndex: 2, symbol: 'none',
      lineStyle: { color: '#0000ff', width: 2.6, type: [0.1, 5], cap: 'round' }, data: pairs(bandYears, line23), z: 4 },
    { name: '8.4 GHz avg', type: 'line', xAxisIndex: 2, yAxisIndex: 2, symbol: 'none',
      lineStyle: { color: '#ff0000', width: 2 }, data: pairs(bandYears, line84), z: 4 },
    { name: 'VLBA 8.4 GHz', type: 'scatter', xAxisIndex: 2, yAxisIndex: 2, symbol: 'image://' + squareIcon,
      symbolSize: 17, data: vlba84, z: 5 },
    { name: 'VLBA 2.3 GHz', type: 'scatter', xAxisIndex: 2, yAxisIndex: 2, symbol: 'diamond',
      symbolSize: 19, itemStyle: { color: CYAN }, data: vlba23, z: 6 }
  ],
  graphic: [
    // legend (a)
    { type: 'rect', shape: { x: 75, y: 19, width: 151, height: 37 }, style: { fill: '#fff', stroke: '#000', lineWidth: 1.2 }, z: 100 },
    { type: 'text', x: 85, y: 28, style: { text: '2.3 GHz', font: '18px ' + FONT, fill: '#000', verticalAlign: 'middle' }, z: 101 },
    { type: 'text', x: 85, y: 46, style: { text: '8.4 GHz', font: '18px ' + FONT, fill: '#000', verticalAlign: 'middle' }, z: 101 },
    { type: 'circle', shape: { cx: 189, cy: 28, r: 2.3 }, style: { fill: '#0000ff' }, z: 101 },
    { type: 'circle', shape: { cx: 189, cy: 46, r: 2.3 }, style: { fill: '#ff0000' }, z: 101 },
    { type: 'text', x: 495, y: 67, style: { text: '(a)', font: '30px ' + FONT, fill: '#000', align: 'center', verticalAlign: 'middle' }, z: 101 },
    // legend (b)
    { type: 'rect', shape: { x: 75, y: 482, width: 228, height: 91 }, style: { fill: '#fff', stroke: '#000', lineWidth: 1.2 }, z: 100 },
    { type: 'text', x: 228, y: 492, style: { text: '2.3 GHz', font: '18px ' + FONT, fill: '#000', align: 'right', verticalAlign: 'middle' }, z: 101 },
    { type: 'text', x: 228, y: 510, style: { text: '8.4 GHz', font: '18px ' + FONT, fill: '#000', align: 'right', verticalAlign: 'middle' }, z: 101 },
    { type: 'text', x: 228, y: 528, style: { text: 'Ceduna 6.7 GHz', font: '18px ' + FONT, fill: '#000', align: 'right', verticalAlign: 'middle' }, z: 101 },
    { type: 'text', x: 228, y: 546, style: { text: 'VLBA 2.3 GHz', font: '18px ' + FONT, fill: '#000', align: 'right', verticalAlign: 'middle' }, z: 101 },
    { type: 'text', x: 228, y: 564, style: { text: 'VLBA 8.4 GHz', font: '18px ' + FONT, fill: '#000', align: 'right', verticalAlign: 'middle' }, z: 101 },
    { type: 'line', shape: { x1: 240, y1: 492, x2: 292, y2: 492 }, style: { stroke: '#0000ff', lineWidth: 2.6, lineDash: [0.1, 5], lineCap: 'round' }, z: 101 },
    { type: 'line', shape: { x1: 240, y1: 510, x2: 292, y2: 510 }, style: { stroke: '#ff0000', lineWidth: 2 }, z: 101 },
    { type: 'circle', shape: { cx: 265, cy: 528, r: 2.5 }, style: { fill: '#000' }, z: 101 },
    { type: 'polygon', shape: { points: [[265, 536.5], [274.5, 546], [265, 555.5], [255.5, 546]] }, style: { fill: CYAN }, z: 101 },
    { type: 'image', style: { image: squareIcon, x: 257, y: 556, width: 17, height: 17 }, z: 101 },
    { type: 'text', x: 495, y: 527, style: { text: '(b)', font: '30px ' + FONT, fill: '#000', align: 'center', verticalAlign: 'middle' }, z: 101 },
    // stray glyphs left of panel (b)
    { type: 'text', x: 2, y: 570, style: { text: ',', font: '18px ' + FONT, fill: '#000' }, z: 101 },
    { type: 'text', x: 11, y: 601, style: { text: 'a', font: '18px serif', fill: '#000' }, z: 101 },
    { type: 'text', x: 31, y: 604, style: { text: '.,', font: '18px ' + FONT, fill: '#000' }, z: 101 }
  ]
};

chart.setOption(option);
</script>
</body>
</html>
